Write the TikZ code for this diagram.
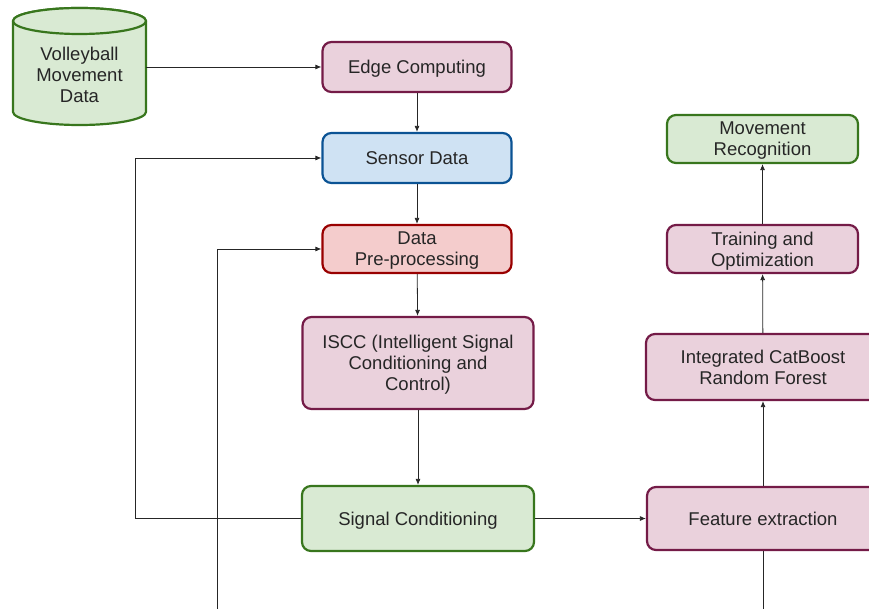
\documentclass[tikz,border=0pt]{standalone}
\usepackage{fontspec}
\setmainfont{Liberation Sans}
\usetikzlibrary{arrows.meta}

\definecolor{greenfill}{HTML}{D9EAD3}
\definecolor{greenline}{HTML}{38761D}
\definecolor{pinkfill}{HTML}{EAD1DC}
\definecolor{pinkline}{HTML}{741B47}
\definecolor{bluefill}{HTML}{CFE2F3}
\definecolor{blueline}{HTML}{0B5394}
\definecolor{redfill}{HTML}{F4CCCC}
\definecolor{redline}{HTML}{990000}

\tikzset{
  box/.style={draw, rounded corners=9pt, line width=2.2pt, align=center,
    font=\fontsize{18.5}{21}\selectfont, text=black!85, inner sep=0pt, text depth=0pt},
  pinkbox/.style={box, fill=pinkfill, draw=pinkline},
  greenbox/.style={box, fill=greenfill, draw=greenline},
  bluebox/.style={box, fill=bluefill, draw=blueline},
  redbox/.style={box, fill=redfill, draw=redline},
  cyl/.style={draw=greenline, fill=greenfill, line width=2.2pt},
  arr/.style={-{Latex[length=6pt,width=5pt]}, line width=0.8pt, black!85},
  wire/.style={line width=0.8pt, black!85},
}

\begin{document}
\begin{tikzpicture}[x=1pt,y=-1pt]
\useasboundingbox (0,0) rectangle (869,609);
\clip (0,0) rectangle (869,609);

% Data source (cylinder)
\filldraw[cyl] (13,21) -- (13,112)
  arc[start angle=180, end angle=0, x radius=66.5, y radius=13] -- (146,21)
  arc[start angle=0, end angle=-180, x radius=66.5, y radius=13] -- cycle;
\draw[cyl] (79.5,21) ellipse[x radius=66.5, y radius=13];
\node[align=center, font=\fontsize{18.5}{21}\selectfont, text=black!85,
  minimum width=133pt, inner sep=0pt] (vbdata) at (79.5,75) {Volleyball\\Movement\\Data};

% Left column
\node[pinkbox, minimum width=189pt, minimum height=50pt] (edge) at (417,67) {Edge Computing};
\node[bluebox, minimum width=189pt, minimum height=50pt] (sensor) at (417,158) {Sensor Data};
\node[redbox, minimum width=189pt, minimum height=48pt] (prep) at (417,249) {Data\\Pre-processing};
\node[pinkbox, minimum width=231pt, minimum height=92pt] (iscc) at (418,363)
  {ISCC (Intelligent Signal\\Conditioning and\\Control)};
\node[greenbox, minimum width=232pt, minimum height=65pt] (sigcond) at (418,518.5) {Signal Conditioning};

% Right column
\node[pinkbox, minimum width=232pt, minimum height=63pt] (feat) at (763,518.5) {Feature extraction};
\node[pinkbox, minimum width=234pt, minimum height=66pt] (catb) at (763,367)
  {Integrated CatBoost\\Random Forest};
\node[pinkbox, minimum width=191pt, minimum height=48pt] (train) at (762.5,249)
  {Training and\\Optimization};
\node[greenbox, minimum width=191pt, minimum height=48pt] (movrec) at (762.5,139)
  {Movement\\Recognition};

% Free ends
\coordinate (fbleft) at (135,518.5);
\coordinate (inlow) at (217,615);
\coordinate (featlow) at (763,615);

% Flow
\draw[arr] (vbdata.east |- edge.west) -- (edge.west);
\draw[arr] (edge) -- (sensor);
\draw[arr] (sensor) -- (prep);
\draw[arr] (prep) -- (iscc);
\draw[arr] (iscc) -- (sigcond);
\draw[arr] (sigcond) -- (feat);
\draw[arr] (feat) -- (catb);
\draw[arr] (catb) -- (train);
\draw[arr] (train) -- (movrec);

% Feedback lines
\draw[arr] (sigcond.west) -- (fbleft) |- (sensor.west);
\draw[arr] (inlow) |- (prep.west);
\draw[wire] (feat.south) -- (featlow);

\end{tikzpicture}
\end{document}
